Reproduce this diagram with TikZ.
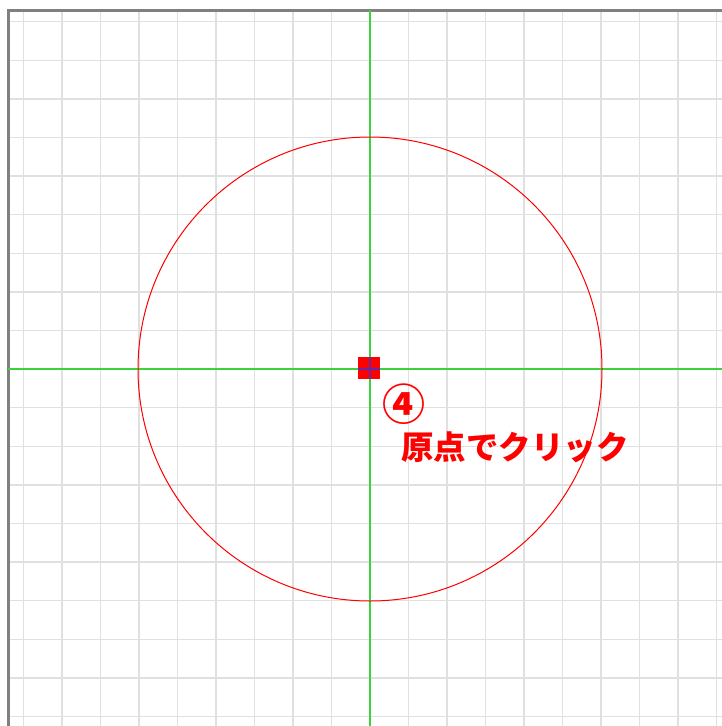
\documentclass[tikz,border=0pt]{standalone}
\usepackage{fontspec}
\newfontfamily\cjk{Noto Sans CJK JP}
\definecolor{gridgrey}{RGB}{224,224,224}
\definecolor{bordergrey}{RGB}{128,128,128}
\definecolor{axisgreen}{RGB}{60,210,60}
\definecolor{mark}{RGB}{255,0,0}
\definecolor{overlap}{RGB}{100,40,170}
\tikzset{
  gridline/.style={draw=gridgrey, line width=1.4pt},
  axisline/.style={draw=axisgreen, line width=1.1pt},
  border/.style={draw=bordergrey, line width=3pt},
  label/.style={text=mark, inner sep=0pt, font=\cjk\bfseries}
}
\begin{document}
\begin{tikzpicture}[x=1pt,y=-1pt]
\useasboundingbox (0,0) rectangle (722,726);
\fill[white] (0,0) rectangle (722,726);
% grid
\foreach \k in {-9,...,9} {
  \draw[gridline] ({370+38.5*\k},10) -- ({370+38.5*\k},726);
  \draw[gridline] (8,{369+38.6*\k}) -- (722,{369+38.6*\k});
}
% border
\draw[border] (8,726) -- (8,10) -- (722,10);
% axes
\coordinate (top) at (370,10);
\coordinate (bottom) at (370,726);
\coordinate (left) at (8,369);
\coordinate (right) at (722,369);
\draw[axisline] (top) -- (bottom);
\draw[axisline] (left) -- (right);
% circle
\coordinate (O) at (370,369);
\draw[draw=mark, line width=1pt] (O) circle[radius=232];
% origin marker
\node[fill=mark, minimum size=22pt, inner sep=0pt] (sq) at (369,368) {};
\draw[draw=overlap, line width=1.1pt] (sq.west |- O) -- (sq.east |- O);
\draw[draw=overlap, line width=1.1pt] (O |- sq.north) -- (O |- sq.south);
% labels
\node[label, font=\cjk\bfseries\fontsize{43}{43}\selectfont] (num) at (404,404) {④};
\node[label, anchor=west, font=\cjk\bfseries\fontsize{32.5}{32.5}\selectfont] (txt) at (401,447) {原点でクリック};
\end{tikzpicture}
\end{document}
